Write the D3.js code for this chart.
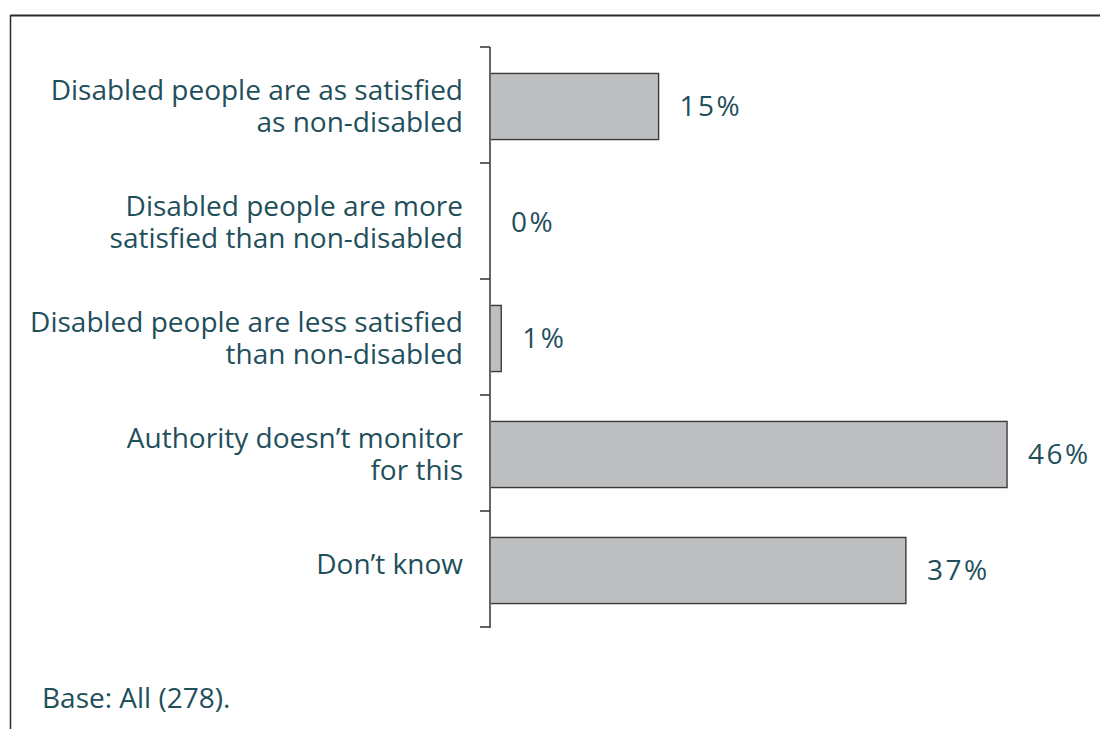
<!DOCTYPE html>
<html>
<head>
<meta charset="utf-8">
<script src="https://cdn.jsdelivr.net/npm/d3@7"></script>
<style>
  html, body { margin: 0; padding: 0; background: #fff; }
  svg text { font-family: "Open Sans", "Noto Sans", sans-serif; fill: #1f4f5b; }
</style>
</head>
<body>
<svg id="chart" width="1100" height="729"></svg>
<script>
// Survey responses: how satisfied disabled people are compared with non-disabled
const categories = [
  ["Disabled people are as satisfied", "as non-disabled"],
  ["Disabled people are more", "satisfied than non-disabled"],
  ["Disabled people are less satisfied", "than non-disabled"],
  ["Authority doesn\u2019t monitor", "for this"],
  ["Don\u2019t know"]
];
const values = [15, 0, 1, 46, 37];
const valueLabels = ["15%", "0%", "1%", "46%", "37%"];
const baseNote = "Base: All (278).";

const svg = d3.select("#chart");
const W = 1100, H = 729;

// Frame: top rule and left rule
svg.append("line").attr("x1", 10.5).attr("x2", W).attr("y1", 15.5).attr("y2", 15.5)
  .attr("stroke", "#2b2b2b").attr("stroke-width", 2);
svg.append("line").attr("x1", 10.5).attr("x2", 10.5).attr("y1", 15).attr("y2", H)
  .attr("stroke", "#2b2b2b").attr("stroke-width", 1.5);

const axisX = 490;
const ids = categories.map((d, i) => i);
const y = d3.scaleBand().domain(ids).range([47, 627]).padding(0);
const x = d3.scaleLinear().domain([0, 50]).range([axisX, axisX + 562]);

const barFrac = 0.57;
const barH = y.bandwidth() * barFrac;
const mid = i => y(i) + y.bandwidth() / 2 + 1.5;

// Bars
svg.append("g").selectAll("rect")
  .data(values.map((v, i) => ({ v, i })).filter(d => d.v > 0))
  .join("rect")
  .attr("x", x(0))
  .attr("y", d => mid(d.i) - barH / 2)
  .attr("width", d => x(d.v) - x(0))
  .attr("height", barH)
  .attr("fill", "#bdbec0")
  .attr("stroke", "#3a3a3a")
  .attr("stroke-width", 1.4);

// Category axis: line plus outward ticks at band boundaries
const axisG = svg.append("g");
axisG.append("line").attr("x1", axisX).attr("x2", axisX).attr("y1", 47).attr("y2", 628)
  .attr("stroke", "#666").attr("stroke-width", 2);
const boundaries = ids.map(i => y(i)).concat([y(ids[ids.length - 1]) + y.bandwidth()]);
axisG.selectAll("line.tick").data(boundaries).join("line")
  .attr("class", "tick")
  .attr("x1", axisX - 10).attr("x2", axisX)
  .attr("y1", d => d).attr("y2", d => d)
  .attr("stroke", "#333").attr("stroke-width", 1.5);

// Category labels, right-aligned beside the axis
const fs = 28, lh = 32;
const labelG = svg.append("g");
categories.forEach((lines, i) => {
  // single-line labels sit a little above the bar centre
  const cy = mid(i) + (lines.length === 1 ? -6 : 0);
  lines.forEach((ln, j) => {
    labelG.append("text")
      .attr("text-anchor", "end")
      .attr("font-size", fs)
      .attr("x", 463)
      .attr("y", cy + (j - (lines.length - 1) / 2) * lh)
      .attr("dy", "0.35em")
      .text(ln);
  });
});

// Value labels at the end of each bar
svg.append("g").selectAll("text")
  .data(values.map((v, i) => ({ v, i })))
  .join("text")
  .attr("x", d => x(d.v) + 21)
  .attr("y", d => mid(d.i))
  .attr("dy", "0.35em")
  .attr("font-size", fs)
  .attr("letter-spacing", 2.5)
  .text(d => valueLabels[d.i]);

// Base note
svg.append("text").attr("x", 42).attr("y", 708).attr("font-size", fs).text(baseNote);
</script>
</body>
</html>
